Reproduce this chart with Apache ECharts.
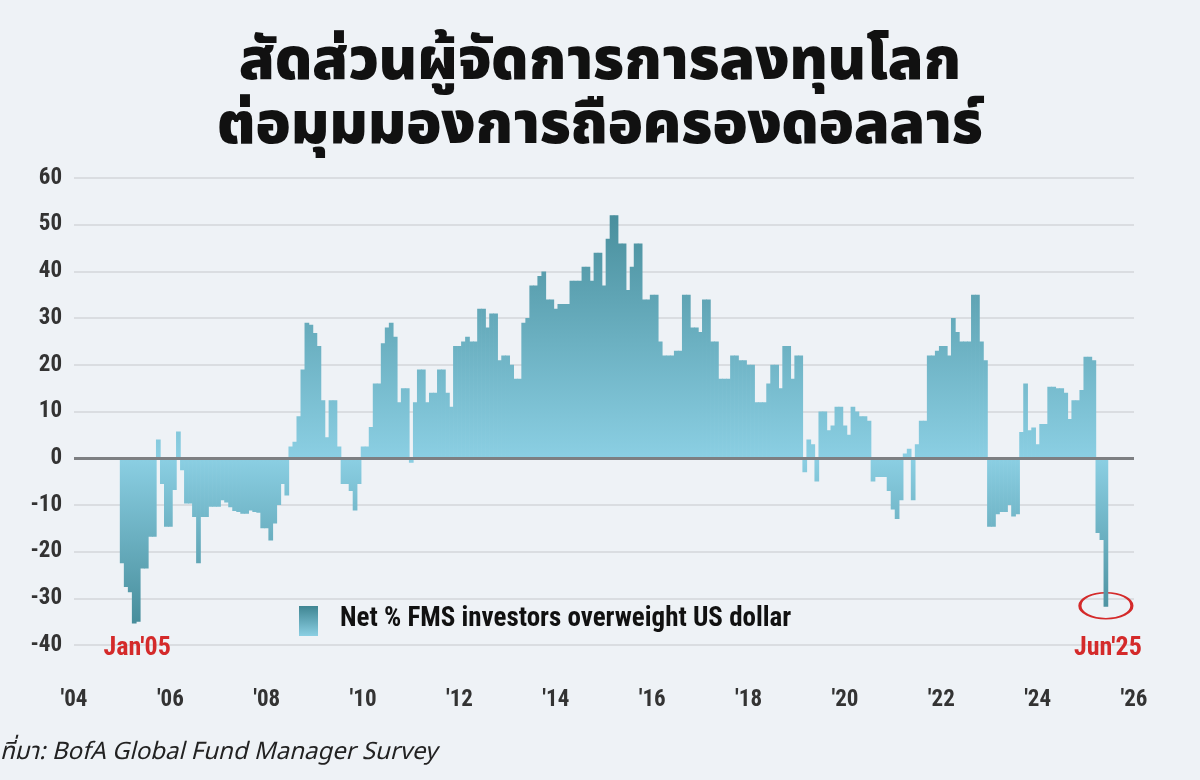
<!DOCTYPE html>
<html><head><meta charset="utf-8">
<script src="https://cdn.jsdelivr.net/npm/echarts@6/dist/echarts.min.js"></script>
<style>html,body{margin:0;padding:0;background:#eef2f6}#c{width:1200px;height:780px}</style>
</head><body><div id="c"></div>
<script>
// Monthly net % of FMS investors overweight US dollar, Jan 2005 onward
const vals2005to2010 = [-22.5,-27.6,-28.7,-35.4,-35,-23.6,-23.6,-16.8,-16.8,4,
-5.5,-14.7,-14.7,-6.8,5.7,-2.6,-9.7,-9.7,-12.6,-22.5,
-12.6,-12.6,-10.4,-10.4,-10.4,-9,-9.5,-10.5,-11.3,-11.5,
-11.9,-11.9,-11.2,-11.5,-11.7,-15,-15,-17.6,-14,-10,
-5.5,-8,2.5,3.5,9,19,29,28.6,26.8,24,
12.4,4.5,12.4,12.4,2.5,-5.5,-5.5,-7,-11.2,-5.5,
2.5,2.5,6.7,16,16,24.6,28];
const vals2010to2016 = [29,26,12,15,15,-1,12,19,19,12,
14,14,19,19,14,11,24,24,25,26,
25,25,32,32,28,31,31,21,22,22,
20,17,17,29,30,37,37,39,40,34,
34,32,33,33,33,38,38,38,41,41,
38,44,44,37,47,52,52,46,46,36,
41,46,46,34,34,35,35,25,22,22,
22,23,23,35,35,28,28];
const vals2017to2022 = [27,34,34,25,25,17,17,17,22,22,
21,21,20,20,12,12,12,16,20,20,
15,24,24,17,22,22,-3,4,3,-5,
10,10,6,7,11,11,7,5,11,10,
9,9,8,-5,-4,-4,-4,-7,-11,-13,
-9,1,2,-9,3,8,8,22,22,23,
24,24,22,30,27,25,25,25,35,35,
25,21];
const vals2023to2025 = [-14.7,-14.7,-12,-11.5,-11.5,-10,-12.5,-12,5.6,16,
6,6.6,3,7.3,7.3,15.3,15.3,15,15,14,
8.4,12.4,12.4,14.6,21.7,21.7,21,-16,-17.5,-31.8];
const startYear = 2005;
const yTicks = [-40,-30,-20,-10,0,10,20,30,40,50,60];
const seriesName = 'Net % FMS investors overweight US dollar';
const titleLines = ['สัดส่วนผู้จัดการการลงทุนโลก','ต่อมุมมองการถือครองดอลลาร์'];
const sourceText = 'ที่มา: BofA Global Fund Manager Survey';
const firstLabel = "Jan'05", lastLabel = "Jun'25";

const all = [].concat(vals2005to2010, vals2010to2016, vals2017to2022, vals2023to2025);
const pos = [], neg = [];
all.forEach((v,i)=>{
  const x = startYear + i/12;
  if (v >= 0) pos.push([x, v]); else neg.push([x, v]);
});
const LIGHT='#8bcfe3';
const gridTop=178, gridBottom=135, zeroY=178+(645-178)*0.6;
const gPos={type:'linear',x:0,y:gridTop,x2:0,y2:zeroY,global:true,colorStops:[{offset:0,color:'#3f8592'},{offset:1,color:LIGHT}]};
const gNeg={type:'linear',x:0,y:zeroY,x2:0,y2:645,global:true,colorStops:[{offset:0,color:LIGHT},{offset:1,color:'#3f8592'}]};
const font="'Liberation Sans Narrow','Roboto Condensed','Liberation Sans',sans-serif";
const chart = echarts.init(document.getElementById('c'));
chart.setOption({
  backgroundColor:'#eef2f6',
  animation:false,
  title:{text:titleLines.join('\n'),left:'center',top:30,
    textStyle:{fontSize:58,fontWeight:900,color:'#111',lineHeight:64,fontFamily:"'Noto Sans Thai','Noto Sans','Noto Sans CJK SC',sans-serif"}},
  grid:{left:74,right:66,top:gridTop,bottom:gridBottom},
  xAxis:{type:'value',min:2004,max:2026,interval:2,
    axisLine:{show:false},axisTick:{show:false},splitLine:{show:false},
    axisLabel:{margin:44,fontSize:23,fontWeight:'bold',color:'#333',fontFamily:font,
      formatter:v=>"'"+String(v).slice(2)}},
  yAxis:{type:'value',min:yTicks[0],max:yTicks[yTicks.length-1],interval:10,
    axisLine:{show:false},axisTick:{show:false},
    splitLine:{lineStyle:{color:'#d3d6da',width:1.5}},
    axisLabel:{margin:12,fontSize:23,fontWeight:'bold',color:'#333',fontFamily:font}},
  series:[
    {type:'bar',name:seriesName,data:pos,barWidth:4.7,itemStyle:{color:gPos},
      markLine:{silent:true,symbol:'none',label:{show:false},lineStyle:{color:'#7d7f82',width:3,type:'solid'},data:[{yAxis:0}]}},
    {type:'bar',name:seriesName,data:neg,barWidth:4.7,barGap:'-100%',itemStyle:{color:gNeg}}
  ]
});
const p0 = chart.convertToPixel({gridIndex:0},[startYear, -40]);
const last = all.length-1;
const pl = chart.convertToPixel({gridIndex:0},[startYear+last/12, all[last]]);
chart.setOption({graphic:[
  {type:'text',left:0,top:742,style:{text:sourceText,fontSize:24,fontStyle:'italic',fill:'#222',fontFamily:"'Noto Sans Thai','Noto Sans',sans-serif"}},
  {type:'rect',shape:{x:299,y:606,width:19,height:30},style:{fill:{type:'linear',x:0,y:0,x2:0,y2:1,colorStops:[{offset:0,color:'#3f8592'},{offset:1,color:LIGHT}]}}},
  {type:'text',x:340,y:606,style:{text:seriesName,fontSize:27,fontWeight:'bold',fill:'#111',fontFamily:font}},
  {type:'text',x:p0[0]+15,y:p0[1]-10,style:{text:firstLabel,fontSize:26,fontWeight:'bold',fill:'#d42a2a',align:'center',fontFamily:font}},
  {type:'text',x:pl[0]+2,y:p0[1]-10,style:{text:lastLabel,fontSize:26,fontWeight:'bold',fill:'#d42a2a',align:'center',fontFamily:font}},
  {type:'circle',x:pl[0],y:pl[1]-1,scaleX:2,scaleY:1,shape:{cx:0,cy:0,r:13},style:{fill:'none',stroke:'#d42a2a',lineWidth:1.6}}
]});
</script></body></html>
